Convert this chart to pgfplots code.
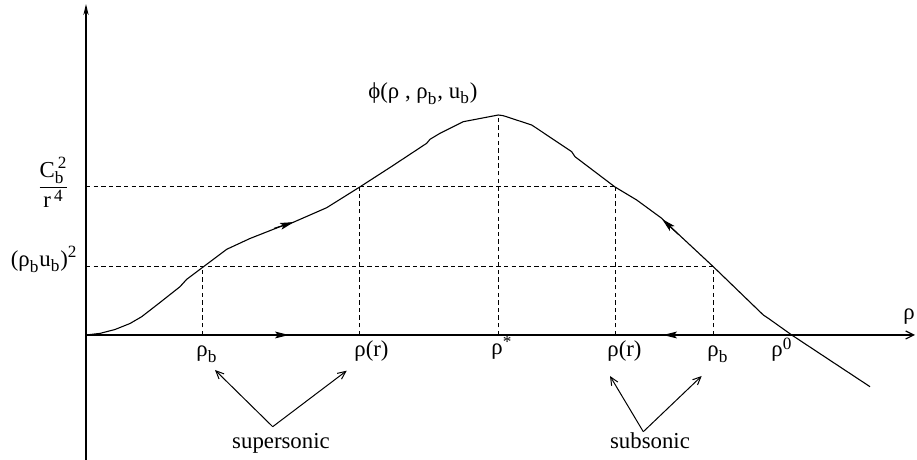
\documentclass[border=0pt]{standalone}
\usepackage{amsmath}
\usepackage{fontspec}
\setmainfont{Liberation Serif}
\usepackage{pgfplots}
\pgfplotsset{compat=1.18}
\usetikzlibrary{arrows.meta}
\DeclareMathSizes{11.4}{11.4}{8.6}{6.8}

% phi(rho) curve, in drawing units (1 unit = 0.5pt)
\pgfplotstableread{
x y
86 0
100 1.6
115 5.5
130 11.5
141.7 18.3
160 32.5
180 48.3
186.7 55.7
202.7 67.7
226.7 85.7
250 96.5
280 108.3
293.3 112.7
326.7 127.3
359.3 147.7
390 167.5
426.7 191.7
430 195.7
440 201.7
463.3 213.3
498.3 220
503.3 219.3
531.7 210
536.7 206.7
571.7 183.3
575 178.3
615 148
636.7 135
661.7 116.7
666.7 111.7
713.3 68.3
763.3 20
768.3 16.7
791.7 0
870 -51.7
}\phicurve

\newcommand{\lbl}{\fontsize{11.4}{13.7}\selectfont}
\newcommand{\T}[1]{\text{#1}}
\tikzset{lab/.style={font=\lbl, inner sep=0pt},
  flow/.style={-{Stealth[length=7pt,width=3.4pt,inset=1.5pt]}}}

\begin{document}
\begin{tikzpicture}[font=\lbl]
\begin{axis}[
  x=0.5pt, y=0.5pt,
  xmin=0, xmax=917, ymin=-125, ymax=335,
  hide axis, clip=false,
]
% axes
\draw[line width=0.6pt, -{Stealth[length=5.5pt,width=2.6pt]}]
  (axis cs:86,-125) -- (axis cs:86,331);
\draw[line width=0.6pt, -{Straight Barb[length=4pt,width=4pt]}]
  (axis cs:86,0) -- (axis cs:915,0);

% guide lines
\pgfplotsset{guide/.style={black, line width=0.5pt, dash pattern=on 2.2pt off 1.6pt}}
\addplot[guide] coordinates {(86,68.3) (713.3,68.3)};
\addplot[guide] coordinates {(86,148) (615,148)};
\addplot[guide] coordinates {(202.7,0) (202.7,67.7)};
\addplot[guide] coordinates {(359.3,0) (359.3,147.7)};
\addplot[guide] coordinates {(498.3,0) (498.3,220)};
\addplot[guide] coordinates {(615,0) (615,148)};
\addplot[guide] coordinates {(713.3,0) (713.3,68.3)};

% the curve
\addplot[black, line width=0.55pt] table[x=x, y=y] {\phicurve};

% direction arrows
\draw[line width=0.6pt, flow] (axis cs:268,0) -- (axis cs:289,0);
\draw[line width=0.6pt, flow] (axis cs:684,0) -- (axis cs:663,0);
\draw[line width=0.55pt, flow] (axis cs:274,106.6) -- (axis cs:294,112.9);
\draw[line width=0.55pt, flow] (axis cs:678,101) -- (axis cs:662,116);

% labels
\node[lab, anchor=base west] at (axis cs:368,236) {$\T{ϕ(ρ , ρ}_{\T{b}}\T{, u}_{\T{b}}\T{)}$};
\node[lab, anchor=base] at (axis cs:53.5,142.4) {$\dfrac{\T{C}_{\T{b}}^{\,\T{2}}}{\T{r}^{\,\T{4}}}$};
\node[lab, anchor=base east] at (axis cs:78,68) {$\T{(ρ}_{\T{b}}\T{u}_{\T{b}}\T{)}^{\T{2}}$};
\node[lab, anchor=base west] at (axis cs:903,15) {ρ};

\node[lab, anchor=base west] at (axis cs:196,-22) {$\T{ρ}_{\T{b}}$};
\node[lab, anchor=base west] at (axis cs:354,-22) {ρ(r)};
\node[lab, anchor=base west] at (axis cs:491,-20) {$\T{ρ}^{\T{*}}$};
\node[lab, anchor=base west] at (axis cs:607,-22) {ρ(r)};
\node[lab, anchor=base west] at (axis cs:707,-22) {$\T{ρ}_{\T{b}}$};
\node[lab, anchor=base west] at (axis cs:771,-22) {$\T{ρ}^{\T{0}}$};

\node[lab, anchor=base] at (axis cs:281,-114) {supersonic};
\node[lab, anchor=base] at (axis cs:650,-114) {subsonic};
\draw[line width=0.5pt, -{Straight Barb[length=4pt,width=3.6pt]}] (axis cs:272.7,-91.7) -- (axis cs:215,-35);
\draw[line width=0.5pt, -{Straight Barb[length=4pt,width=3.6pt]}] (axis cs:272.7,-91.7) -- (axis cs:346.7,-35.7);
\draw[line width=0.5pt, -{Straight Barb[length=4pt,width=3.6pt]}] (axis cs:643.3,-96.7) -- (axis cs:610,-41);
\draw[line width=0.5pt, -{Straight Barb[length=4pt,width=3.6pt]}] (axis cs:643.3,-96.7) -- (axis cs:701.7,-41);
\end{axis}
\pgfresetboundingbox
\path (current axis.south west) rectangle (current axis.north east);
\end{tikzpicture}
\end{document}
